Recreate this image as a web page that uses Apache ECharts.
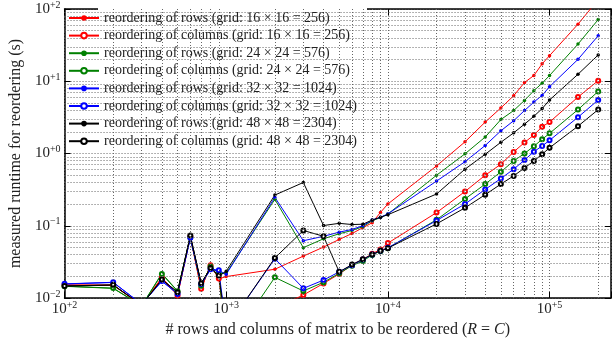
<!DOCTYPE html>
<html>
<head>
<meta charset="utf-8">
<script src="https://cdn.jsdelivr.net/npm/echarts@6/dist/echarts.min.js"></script>
<style>
  html, body { margin: 0; padding: 0; background: #fff; }
  #chart { width: 614px; height: 343px; }
</style>
</head>
<body>
<div id="chart"></div>
<script>
// matrix sizes (R = C)
var sizes = [100, 200, 300, 400, 500, 600, 700, 800, 900, 1000,
  2000, 3000, 4000, 5000, 6000, 7000, 8000, 9000, 10000,
  20000, 30000, 40000, 50000, 60000, 70000, 80000, 90000, 100000, 150000, 200000];

// runtimes in seconds
var rows16 = [0.015, 0.0151, 0.008, 0.019, 0.011, 0.07, 0.0132, 0.029, 0.0184, 0.0198,
  0.025, 0.038, 0.0507, 0.0646, 0.078, 0.094, 0.11, 0.153, 0.2,
  0.673, 1.45, 2.72, 4.27, 6.3, 9.6, 12.0, 17.4, 22.6, 61.7, 135];
var cols16 = [0.0152, 0.015, 0.0079, 0.0192, 0.0108, 0.071, 0.0134, 0.0285, 0.0186, 0.003,
  0.0072, 0.011, 0.0159, 0.0215, 0.0285, 0.034, 0.041, 0.047, 0.0575,
  0.152, 0.298, 0.50, 0.71, 1.05, 1.42, 1.8, 2.35, 2.72, 6.04, 10.2];
var rows24 = [0.0145, 0.0136, 0.0078, 0.0219, 0.0125, 0.07, 0.015, 0.027, 0.022, 0.022,
  0.232, 0.0498, 0.066, 0.0775, 0.086, 0.097, 0.117, 0.13, 0.145,
  0.50, 0.99, 1.69, 2.95, 3.93, 5.43, 7.4, 9.4, 12.0, 32.7, 71.3];
var cols24 = [0.0146, 0.0137, 0.0078, 0.0215, 0.0124, 0.069, 0.0148, 0.027, 0.022, 0.002,
  0.0193, 0.0125, 0.0165, 0.022, 0.028, 0.0325, 0.0395, 0.0445, 0.049,
  0.121, 0.235, 0.377, 0.557, 0.79, 1.0, 1.26, 1.57, 1.9, 4.05, 7.23];
var rows32 = [0.0156, 0.0164, 0.0082, 0.0171, 0.0115, 0.068, 0.0155, 0.0248, 0.024, 0.0213,
  0.247, 0.062, 0.0715, 0.0815, 0.089, 0.1, 0.12, 0.131, 0.146,
  0.415, 0.77, 1.29, 2.06, 2.84, 3.93, 5.15, 6.37, 8.4, 20.1, 42.6];
var cols32 = [0.0157, 0.0165, 0.0082, 0.0172, 0.0114, 0.068, 0.0156, 0.025, 0.0242, 0.0038,
  0.035, 0.0136, 0.0177, 0.023, 0.0285, 0.034, 0.040, 0.045, 0.0495,
  0.118, 0.2, 0.318, 0.45, 0.607, 0.81, 1.06, 1.27, 1.52, 3.18, 5.5];
var rows48 = [0.0146, 0.0151, 0.008, 0.0181, 0.012, 0.0734, 0.0159, 0.026, 0.02, 0.0235,
  0.266, 0.397, 0.1007, 0.108, 0.104, 0.105, 0.12, 0.131, 0.142,
  0.275, 0.607, 0.975, 1.43, 1.93, 2.55, 3.27, 4.18, 5.5, 12.5, 23.1];
var cols48 = [0.0147, 0.0152, 0.008, 0.018, 0.012, 0.073, 0.016, 0.026, 0.0205, 0.0038,
  0.0358, 0.086, 0.0715, 0.023, 0.029, 0.0345, 0.040, 0.045, 0.049,
  0.106, 0.177, 0.269, 0.377, 0.49, 0.63, 0.79, 0.975, 1.2, 2.39, 4.05];

// minor grid positions (2..9 per decade)
var xMinor = [200, 300, 400, 500, 600, 700, 800, 900,
  2000, 3000, 4000, 5000, 6000, 7000, 8000, 9000,
  20000, 30000, 40000, 50000, 60000, 70000, 80000, 90000, 200000];
var yMinor = [0.02, 0.03, 0.04, 0.05, 0.06, 0.07, 0.08, 0.09,
  0.2, 0.3, 0.4, 0.5, 0.6, 0.7, 0.8, 0.9,
  2, 3, 4, 5, 6, 7, 8, 9, 20, 30, 40, 50, 60, 70, 80, 90];

var names = [
  'reordering of rows (grid: 16 \u00d7 16 = 256)',
  'reordering of columns (grid: 16 \u00d7 16 = 256)',
  'reordering of rows (grid: 24 \u00d7 24 = 576)',
  'reordering of columns (grid: 24 \u00d7 24 = 576)',
  'reordering of rows (grid: 32 \u00d7 32 = 1024)',
  'reordering of columns (grid: 32 \u00d7 32 = 1024)',
  'reordering of rows (grid: 48 \u00d7 48 = 2304)',
  'reordering of columns (grid: 48 \u00d7 48 = 2304)'
];
var values = [rows16, cols16, rows24, cols24, rows32, cols32, rows48, cols48];
var colors = ['#ff0000', '#ff0000', '#008000', '#008000', '#0000ff', '#0000ff', '#000000', '#000000'];

var FONT = 'Liberation Serif';
var gridDots = { color: '#666', width: 1, type: [1, 2] };

function powLabel(v) {
  var l = Math.log10(v);
  var e = Math.round(l);
  if (Math.abs(l - e) > 1e-6) return '';
  return '10{s|' + (e < 0 ? '\u2212' : '+') + Math.abs(e) + '}';
}
var labelRich = { s: { fontFamily: FONT, fontSize: 10, color: '#222', padding: [0, 0, 8, 0] } };

var series = values.map(function (arr, i) {
  var hollow = i % 2 === 1;
  return {
    name: names[i],
    type: 'line',
    data: sizes.map(function (s, k) { return [s, arr[k]]; }),
    symbol: hollow ? 'emptyCircle' : 'circle',
    symbolSize: hollow ? 4 : 3.5,
    showAllSymbol: true,
    clip: true,
    itemStyle: { color: colors[i], borderWidth: 1 },
    lineStyle: { color: colors[i], width: 1 },
    animation: false
  };
});

// dotted minor grid lines
series.unshift({
  name: 'minor',
  type: 'line',
  data: [],
  silent: true,
  markLine: {
    silent: true,
    symbol: ['none', 'none'],
    label: { show: false },
    lineStyle: gridDots,
    emphasis: { disabled: true },
    animation: false,
    data: xMinor.map(function (v) { return { xAxis: v }; })
      .concat(yMinor.map(function (v) { return { yAxis: v }; }))
  }
});

var chart = echarts.init(document.getElementById('chart'));
chart.setOption({
  backgroundColor: '#fff',
  animation: false,
  grid: { left: 64, right: 0, top: 7, bottom: 45 },
  legend: {
    data: names,
    orient: 'vertical',
    left: 68,
    top: 11,
    z: 10,
    itemWidth: 30,
    itemHeight: 7,
    itemGap: 3.6,
    padding: 0,
    textStyle: { fontFamily: FONT, fontSize: 14, color: '#222', lineHeight: 14 }
  },
  graphic: [{
    type: 'rect',
    z: 5,
    shape: { x: 98, y: 8, width: 269, height: 142 },
    style: { fill: '#fff' }
  }],
  xAxis: [{
    type: 'log',
    min: 100,
    max: 240000,
    name: '# rows and columns of matrix to be reordered ({i|R} = {i|C})',
    nameLocation: 'middle',
    nameGap: 22,
    nameTextStyle: {
      fontFamily: FONT, fontSize: 16, color: '#222',
      rich: { i: { fontFamily: FONT, fontSize: 16, fontStyle: 'italic', color: '#222' } }
    },
    axisLine: { lineStyle: { color: '#000', width: 1.5 } },
    axisTick: { inside: true, length: 6, lineStyle: { color: '#000' } },
    axisLabel: { formatter: powLabel, fontFamily: FONT, fontSize: 15, color: '#222', margin: 2, rich: labelRich },
    splitLine: { show: true, lineStyle: gridDots }
  }, {
    type: 'log',
    position: 'top',
    min: 100,
    max: 240000,
    axisLine: { lineStyle: { color: '#000', width: 1.5 } },
    axisTick: { inside: true, length: 6, lineStyle: { color: '#000' } },
    axisLabel: { show: false },
    splitLine: { show: false }
  }],
  yAxis: [{
    type: 'log',
    min: 0.01,
    max: 100,
    name: 'measured runtime for reordering (s)',
    nameLocation: 'middle',
    nameGap: 40,
    nameTextStyle: { fontFamily: FONT, fontSize: 16, color: '#222' },
    axisLine: { show: true, lineStyle: { color: '#000', width: 1.5 } },
    axisTick: { inside: true, length: 6, lineStyle: { color: '#000' } },
    axisLabel: { formatter: powLabel, fontFamily: FONT, fontSize: 15, color: '#222', margin: 4, rich: labelRich },
    splitLine: { show: true, lineStyle: gridDots }
  }, {
    type: 'log',
    position: 'right',
    min: 0.01,
    max: 100,
    axisLine: { show: true, lineStyle: { color: '#000', width: 1.5 } },
    axisTick: { inside: true, length: 6, lineStyle: { color: '#000' } },
    axisLabel: { show: false },
    splitLine: { show: false }
  }],
  series: series
});
</script>
</body>
</html>
